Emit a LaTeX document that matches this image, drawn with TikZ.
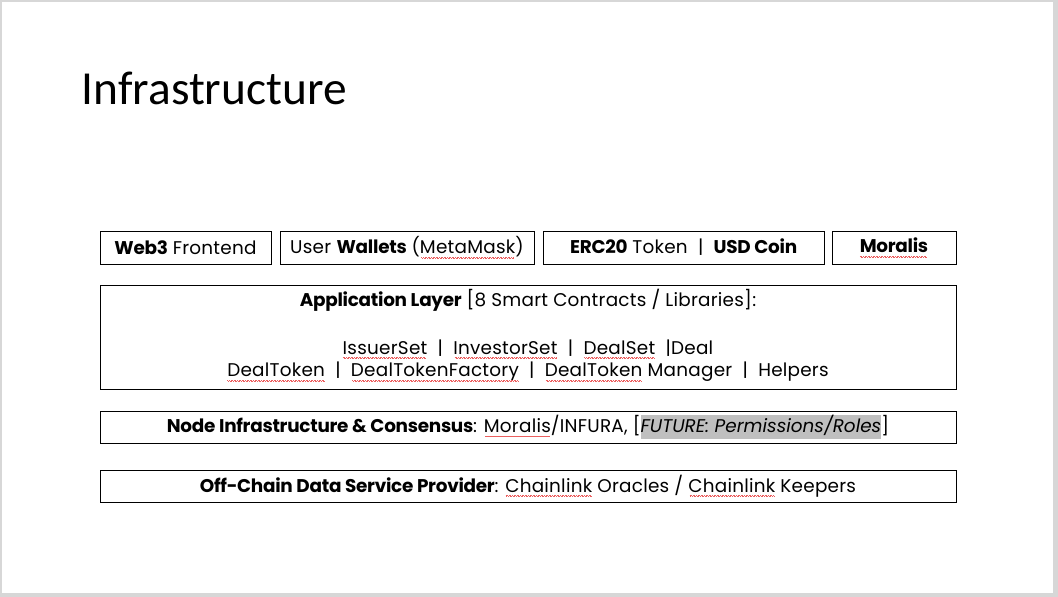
\documentclass[tikz,border=0pt]{standalone}
\usepackage{fontspec}
\setmainfont{Poppins}[UprightFeatures={LetterSpace=1.3}, BoldFeatures={LetterSpace=-1.5}]
\newfontfamily\titlefont{Carlito}
\definecolor{hlgray}{RGB}{191,191,191}
\definecolor{sqred}{RGB}{235,95,95}
\definecolor{frame}{RGB}{215,215,215}
\newcommand\sq[1]{\setbox0\hbox{#1}\rlap{\copy0}{\color{sqred}\leaders\hbox{\rule[-3.6pt]{0.8pt}{0.45pt}\rule[-4.3pt]{0.8pt}{0.45pt}}\hskip\wd0}}
\newcommand\hl[1]{{\setlength\fboxsep{0pt}\colorbox{hlgray}{\vrule height 15pt depth 6.5pt width 0pt #1}}}
\tikzset{
  box/.style={draw=black, line width=0.9pt, inner sep=0pt},
  txt/.style={inner sep=0pt, font=\fontsize{18.4}{22}\selectfont},
}
\begin{document}
\begin{tikzpicture}[x=1pt,y=-1pt]
\useasboundingbox (0,0) rectangle (1058,597);
\fill[frame] (0,0) rectangle (1058,597);
\fill[white] (1.5,1.5) rectangle (1053,593);
\node[anchor=base west, inner sep=0pt, font=\titlefont\fontsize{47.4}{52}\selectfont] (title) at (81.5,104) {Infrastructure};
% row 1
\node[box, minimum width=171pt, minimum height=33pt] (web3) at (185.5,247.5) {};
\node[txt] (web3t) at (web3.center) {\textbf{Web3} Frontend};
\node[box, minimum width=254pt, minimum height=33pt] (wallet) at (407,247.5) {};
\node[txt] (wallett) at (wallet.center) {User \textbf{Wallets} (\sq{MetaMask})};
\node[box, minimum width=281pt, minimum height=33pt] (erc) at (683.5,247.5) {};
\node[txt] (erct) at (erc.center) {\textbf{ERC20} Token \ | \ \textbf{USD Coin}};
\node[box, minimum width=124pt, minimum height=33pt] (mor) at (894,247.5) {};
\node[txt] (mort) at (mor.center) {\textbf{\sq{Moralis}}};
% application layer
\node[box, minimum width=856pt, minimum height=104pt] (app) at (528,337) {};
\node[txt] (app1) at (528,300) {\textbf{Application Layer} [8 Smart Contracts / Libraries]:};
\node[txt] (app2) at (528,349) {\sq{IssuerSet} \ | \ \sq{InvestorSet} \ | \ \sq{DealSet} \ |Deal};
\node[txt] (app3) at (528,372) {\sq{DealToken} \ | \ \sq{DealTokenFactory} \ | \ \sq{DealToken} Manager \ | \ Helpers};
% node infrastructure
\node[box, minimum width=856pt, minimum height=32pt] (nodeinf) at (528,427) {};
\node[txt] (nodeinft) at (nodeinf.center) {\textbf{Node Infrastructure \& Consensus}: \sq{Moralis}/INFURA, [\hl{\textit{FUTURE: Permissions/Roles}}]};
% off-chain
\node[box, minimum width=856pt, minimum height=32pt] (off) at (528,486) {};
\node[txt] (offt) at (off.center) {\textbf{Off-Chain Data Service Provider}: \sq{Chainlink} Oracles / \sq{Chainlink} Keepers};
\end{tikzpicture}
\end{document}
